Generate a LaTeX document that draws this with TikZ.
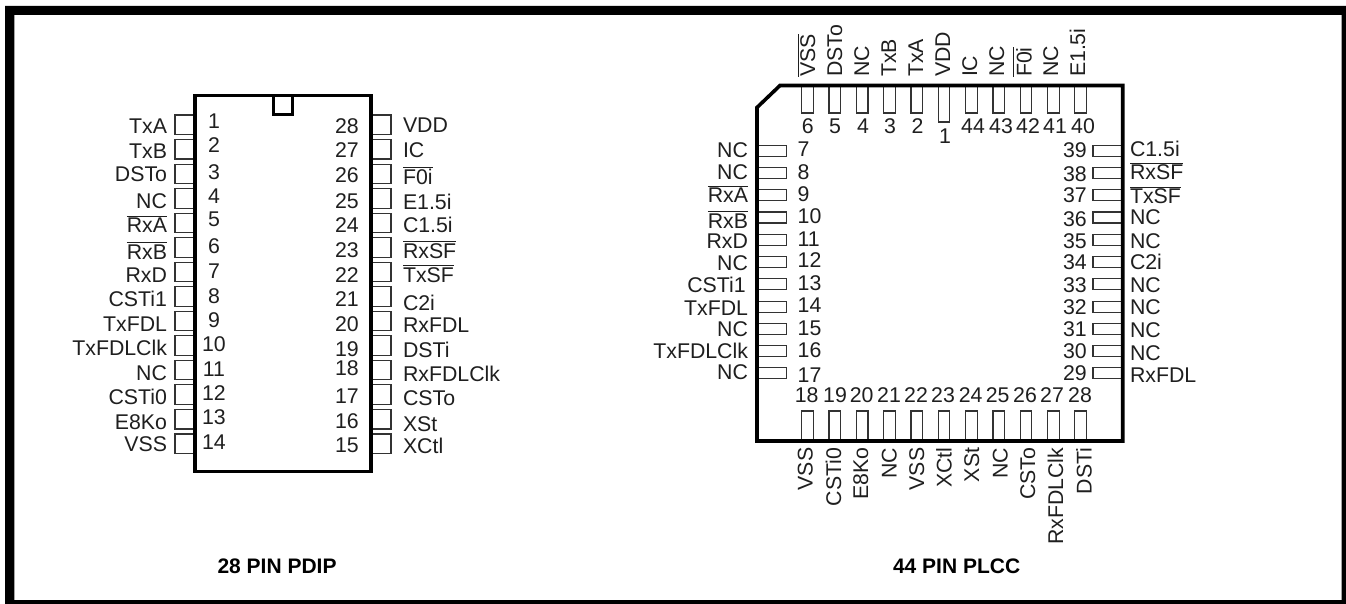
\documentclass[tikz,border=0pt]{standalone}
\usepackage{fontspec}
\setmainfont{Liberation Sans}
\newcommand{\ob}[1]{\leavevmode\vbox{\hrule height 1pt \kern 1.6pt \hbox{#1}}}
\tikzset{
  lab/.style={inner sep=0pt,outer sep=0pt,font=\fontsize{21.3}{23}\selectfont,text=black!88},
  captext/.style={inner sep=0pt,outer sep=0pt,font=\fontsize{21}{23}\selectfont\bfseries,text=black},
  pin/.style={draw=black!80,line width=1.1pt,fill=white},
  body/.style={draw=black,line width=3.6pt,miter limit=10},
}
\begin{document}
\begin{tikzpicture}[x=1pt,y=-1pt]
\useasboundingbox (0,0) rectangle (1346,604);
\fill[white] (0,0) rectangle (1346,604);
\fill[black,even odd rule] (5,6) rectangle (1346,604) (14.3,15) rectangle (1341.5,600);
% ---- 28 pin PDIP: pins
\foreach \i in {0,...,13}{
  \pgfmathsetmacro{\yt}{115+24.54*\i}
  \draw[pin] (175,\yt) rectangle (195,\yt+19.5);
  \draw[pin] (371,\yt) rectangle (391,\yt+19.5);
}
\draw[body] (195,95.5) rectangle (371,471.5);
\draw[body] (273.5,95.5) -- (273.5,114.5) -- (292.5,114.5) -- (292.5,95.5);
\foreach \n/\y/\t in {TxA/134/TxA,TxB/159/TxB,DSTo/182/DSTo,NCa/208/NC,RxA/233/\ob{RxA},RxB/259/\ob{RxB},RxD/282/RxD,CSTia/306/CSTi1,TxFDL/331/TxFDL,TxFDLClk/355/TxFDLClk,NCb/380/NC,CSTib/404/CSTi0,EK/429/E8Ko,VSS/451/VSS}
  \node[lab,anchor=base east] (dl\n) at (167,\y) {\t};
\foreach \n/\y in {1/129,2/153,3/180,4/204,5/226,6/253,7/278,8/303,9/327,10/351,11/376,12/400,13/424,14/449}
  \node[lab,anchor=base] (dn\n) at (214,\y) {\n};
\foreach \n/\y in {28/134,27/158,26/183,25/208,24/233,23/257,22/282,21/306,20/331,19/356,18/375,17/403,16/428,15/452}
  \node[lab,anchor=base east] (dn\n) at (358.7,\y) {\n};
\foreach \n/\y/\t in {VDD/133/VDD,IC/158/IC,Fi/185/\ob{F0i},Ei/209/E1.5i,Ci/233/C1.5i,RxSF/258/\ob{RxSF},TxSF/282/\ob{TxSF},Cii/310/C2i,RxFDL/332/RxFDL,DSTi/357/DSTi,RxFDLClk/381/RxFDLClk,CSTo/405/CSTo,XSt/431/XSt,XCtl/453/XCtl}
  \node[lab,anchor=base west] (dr\n) at (403,\y) {\t};
\node[captext,anchor=base west] (dipcap) at (217.5,573) {28 PIN PDIP};
% ---- 44 pin PLCC: pins
\foreach \i in {0,...,10}{
  \pgfmathsetmacro{\xc}{807.5+27.32*\i}
  \ifnum\i=5
    \draw[pin] (\xc-5.5,85.5) rectangle (\xc+5.5,122);
  \else
    \draw[pin] (\xc-5.8,85.5) rectangle (\xc+5.8,113);
  \fi
  \draw[pin] (\xc-5.8,411) rectangle (\xc+5.8,441);
  \pgfmathsetmacro{\yc}{150.7+22.27*\i}
  \draw[pin] (757,\yc-5.5) rectangle (786.7,\yc+5.5);
  \draw[pin] (1093,\yc-5.5) rectangle (1122.7,\yc+5.5);
}
\draw[body] (780,85.5) -- (1122.7,85.5) -- (1122.7,441) -- (757,441) -- (757,107.5) -- cycle;
% top
\foreach \n/\x/\t in {a/815/\ob{VSS},b/842/DSTo,c/869/NC,d/896/TxB,e/923/TxA,f/950/VDD,g/977/IC,h/1004/NC,i/1031.5/\ob{F0i},j/1058/NC,k/1085/E1.5i}
  \node[lab,anchor=base west,rotate=90] (pt\n) at (\x,77) {\t};
\foreach \n/\x/\y in {6/807.7/134,5/835/134,4/863/134,3/890/134,2/917.5/134,1/945/144,44/973/134,43/1001/134,42/1028/134,41/1055/134,40/1083/134}
  \node[lab,anchor=base] (pn\n) at (\x,\y) {\n};
% bottom
\foreach \n/\x/\t in {a/812.7/VSS,b/841/CSTi0,c/868/E8Ko,d/896.7/NC,e/924/VSS,f/951.7/XCtl,g/979/XSt,h/1007.7/NC,i/1035/CSTo,j/1063/RxFDLClk,k/1091.7/DSTi}
  \node[lab,anchor=base east,rotate=90] (pb\n) at (\x,447.7) {\t};
\foreach \n/\x in {18/806.7,19/835,20/861.7,21/889,22/916,23/943,24/970.7,25/997.7,26/1025,27/1052,28/1080}
  \node[lab,anchor=base] (pn\n) at (\x,402.7) {\n};
% left
\foreach \n/\x/\y/\t in {a/748/158/NC,b/748/180/NC,c/748/203/\ob{RxA},d/748/228/\ob{RxB},e/748/248/RxD,f/748/270/NC,g/745.7/292/CSTi1,h/748/315/TxFDL,i/748/336/NC,j/748/358/TxFDLClk,k/748/379/NC}
  \node[lab,anchor=base east] (pl\n) at (\x,\y) {\t};
\foreach \n/\y in {7/157,8/180,9/202,10/223,11/246,12/267,13/290,14/312,15/335,16/357,17/382}
  \node[lab,anchor=base west] (pn\n) at (797.7,\y) {\n};
% right
\foreach \n/\y in {39/158,38/181.7,37/203,36/226,35/248,34/269,33/292,32/314,31/336,30/358,29/380}
  \node[lab,anchor=base east] (pn\n) at (1086.7,\y) {\n};
\foreach \n/\y/\t in {a/157/C1.5i,b/180/\ob{RxSF},c/204/\ob{TxSF},d/225/NC,e/248/NC,f/269/C2i,g/292/NC,h/314/NC,i/337/NC,j/360/NC,k/382/RxFDL}
  \node[lab,anchor=base west] (pr\n) at (1130,\y) {\t};
\node[captext,anchor=base west] (plcccap) at (893,573) {44 PIN PLCC};
\end{tikzpicture}
\end{document}
